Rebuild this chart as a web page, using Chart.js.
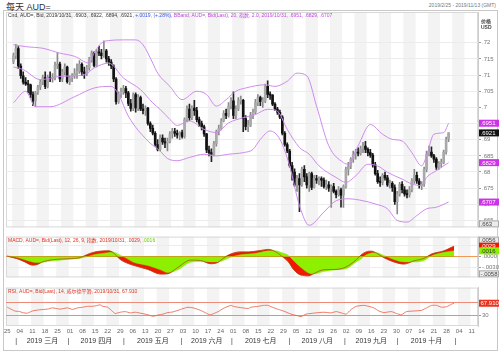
<!DOCTYPE html>
<html lang="zh">
<head>
<meta charset="UTF-8">
<title>每天 AUD=</title>
<script src="https://cdn.jsdelivr.net/npm/chart.js"></script>
<style>
  html, body { margin: 0; padding: 0; background: #fff; }
  #wrap { position: relative; width: 500px; height: 352px; overflow: hidden;
          font-family: "Liberation Sans", Arial, "Noto Sans CJK SC", sans-serif; }
  #wrap canvas { position: absolute; left: 0; }
  .frame { position: absolute; left: 3px; top: 10px; width: 493px; height: 339px; border: 1px solid #c8c8c8; }
  .title { position: absolute; left: 6px; top: 0px; font-size: 9px; color: #333; }
  .range { position: absolute; right: 4px; top: 2px; font-size: 5px; color: #777; }
  .unit { position: absolute; left: 481px; font-size: 5px; font-weight: bold; color: #444; }
</style>
</head>
<body>
<div id="wrap">
  <div class="frame"></div>
  <div class="title">每天 AUD=</div>
  <div class="range">2019/2/25 - 2019/11/13 (GMT)</div>
  <canvas id="price" width="500" height="232" style="top:0"></canvas>
  <canvas id="macd" width="500" height="50" style="top:232px"></canvas>
  <canvas id="rsi" width="500" height="69" style="top:283px"></canvas>
  <div class="unit" style="top:17px">价格</div>
  <div class="unit" style="top:24px">USD</div>
</div>

<script>
// ---- data: daily candles, 2019/2/25 .. 2019/10/31 (index 0..178) ----
const opens = [
  .7142,.7160,.7182,.7128,.7098,.7078,.7073,.7070,.7040,.7020,
  .7046,.7063,.7078,.7092,.7065,.7093,.7090,.7093,.7130,.7134,
  .7088,.7110,.7125,.7080,.7092,.7097,.7105,.7112,.7133,.7110,
  .7105,.7122,.7150,.7168,.7130,.7172,.7168,.7160,.7175,.7150,
  .7140,.7128,.7088,.7018,.7040,.7048,.7058,.7045,.7012,.6997,
  .7040,.6998,.7030,.6995,.6990,.6998,.6950,.6935,.6920,.6885,
  .6870,.6905,.6893,.6890,.6895,.6918,.6925,.6920,.6915,.6922,
  .6910,.6962,.6995,.6968,.6998,.6990,.6962,.6950,.6940,.6918,
  .6868,.6860,.6855,.6888,.6925,.6935,.6958,.6982,.6975,.7005,
  .7020,.6975,.6995,.7020,.7022,.6965,.6940,.6945,.6975,.6985,
  .7015,.7030,.7018,.7020,.7065,.7040,.7038,.7010,.6995,.6985,
  .6970,.6920,.6885,.6865,.6820,.6800,.6760,.6780,.6760,.6808,
  .6785,.6760,.6795,.6752,.6780,.6775,.6780,.6775,.6755,.6760,
  .6750,.6755,.6740,.6730,.6745,.6728,.6755,.6808,.6818,.6840,
  .6855,.6862,.6858,.6872,.6880,.6870,.6860,.6852,.6822,.6795,
  .6770,.6768,.6790,.6782,.6760,.6765,.6752,.6708,.6732,.6762,
  .6745,.6732,.6730,.6745,.6772,.6790,.6772,.6758,.6762,.6808,
  .6855,.6862,.6850,.6840,.6815,.6826,.6830,.6862,.6903
];
const highs = [
  .7168,.7195,.7188,.7135,.7110,.7092,.7084,.7072,.7048,.7050,
  .7068,.7085,.7100,.7110,.7100,.7110,.7105,.7140,.7170,.7140,
  .7118,.7135,.7128,.7098,.7105,.7120,.7135,.7145,.7138,.7125,
  .7130,.7155,.7175,.7172,.7180,.7190,.7180,.7206,.7180,.7158,
  .7148,.7132,.7092,.7048,.7060,.7068,.7065,.7050,.7025,.7045,
  .7045,.7040,.7035,.7010,.7005,.7000,.6955,.6945,.6925,.6900,
  .6915,.6915,.6905,.6905,.6925,.6935,.6935,.6930,.6925,.6930,
  .6968,.7005,.7010,.7005,.7022,.7000,.6970,.6958,.6945,.6920,
  .6880,.6872,.6895,.6930,.6945,.6965,.6990,.6995,.7015,.7030,
  .7048,.7005,.7030,.7035,.7025,.6975,.6960,.6985,.6995,.7025,
  .7040,.7035,.7030,.7072,.7082,.7048,.7040,.7015,.7000,.6992,
  .6975,.6925,.6890,.6870,.6830,.6810,.6790,.6795,.6815,.6820,
  .6795,.6800,.6800,.6790,.6790,.6785,.6785,.6782,.6775,.6770,
  .6760,.6765,.6745,.6755,.6750,.6760,.6815,.6830,.6845,.6865,
  .6870,.6875,.6880,.6892,.6895,.6875,.6870,.6858,.6830,.6805,
  .6785,.6795,.6800,.6790,.6775,.6770,.6760,.6740,.6768,.6770,
  .6755,.6745,.6755,.6780,.6808,.6800,.6780,.6770,.6815,.6865,
  .6880,.6878,.6855,.6845,.6832,.6840,.6868,.6908,.6922
];
const lows = [
  .7135,.7150,.7120,.7090,.7072,.7068,.7045,.7030,.7005,.7003,
  .7040,.7055,.7070,.7058,.7060,.7080,.7078,.7085,.7120,.7080,
  .7080,.7100,.7075,.7070,.7080,.7090,.7090,.7105,.7098,.7090,
  .7098,.7115,.7140,.7125,.7125,.7160,.7150,.7155,.7140,.7130,
  .7120,.7080,.7010,.7012,.7030,.7040,.7030,.7005,.6988,.6990,
  .6985,.6990,.6990,.6980,.6975,.6945,.6925,.6915,.6880,.6865,
  .6865,.6885,.6875,.6865,.6890,.6905,.6910,.6905,.6900,.6905,
  .6905,.6955,.6960,.6962,.6975,.6955,.6940,.6930,.6910,.6860,
  .6850,.6832,.6850,.6880,.6915,.6930,.6955,.6965,.6970,.6995,
  .6965,.6965,.6990,.7010,.6925,.6930,.6925,.6940,.6965,.6980,
  .7005,.7005,.7000,.7015,.7030,.7025,.7005,.6990,.6978,.6965,
  .6915,.6880,.6860,.6815,.6775,.6755,.6740,.6677,.6755,.6770,
  .6750,.6740,.6745,.6750,.6765,.6760,.6755,.6750,.6745,.6740,
  .6690,.6735,.6720,.6725,.6691,.6690,.6750,.6790,.6810,.6830,
  .6840,.6850,.6852,.6860,.6860,.6850,.6845,.6815,.6790,.6765,
  .6755,.6760,.6775,.6755,.6750,.6740,.6700,.6670,.6725,.6735,
  .6725,.6720,.6722,.6738,.6765,.6765,.6750,.6745,.6755,.6800,
  .6850,.6845,.6830,.6808,.6808,.6815,.6825,.6855,.6894
];
const closes = [
  .7160,.7182,.7128,.7098,.7078,.7073,.7070,.7040,.7020,.7046,
  .7063,.7078,.7092,.7065,.7093,.7090,.7093,.7130,.7134,.7088,
  .7110,.7125,.7080,.7092,.7097,.7105,.7112,.7133,.7110,.7105,
  .7122,.7150,.7168,.7130,.7172,.7168,.7160,.7175,.7150,.7140,
  .7128,.7088,.7018,.7040,.7048,.7058,.7045,.7012,.6997,.7040,
  .6998,.7030,.6995,.6990,.6998,.6950,.6935,.6920,.6885,.6870,
  .6905,.6893,.6890,.6895,.6918,.6925,.6920,.6915,.6922,.6910,
  .6962,.6995,.6968,.6998,.6990,.6962,.6950,.6940,.6918,.6868,
  .6860,.6855,.6888,.6925,.6935,.6958,.6982,.6975,.7005,.7020,
  .6975,.6995,.7020,.7022,.6965,.6940,.6945,.6975,.6985,.7015,
  .7030,.7018,.7020,.7065,.7040,.7038,.7010,.6995,.6985,.6970,
  .6920,.6885,.6865,.6820,.6800,.6760,.6780,.6760,.6808,.6785,
  .6760,.6795,.6752,.6780,.6775,.6780,.6775,.6755,.6760,.6750,
  .6755,.6740,.6730,.6745,.6728,.6755,.6808,.6818,.6840,.6855,
  .6862,.6858,.6872,.6880,.6870,.6860,.6852,.6822,.6795,.6770,
  .6768,.6790,.6782,.6760,.6765,.6752,.6708,.6732,.6762,.6745,
  .6732,.6730,.6745,.6772,.6790,.6772,.6758,.6762,.6808,.6855,
  .6862,.6850,.6840,.6815,.6826,.6830,.6862,.6900,.6921
];

// Bollinger band (20, 2.0) at these day indices
const upperIdx  = [0, 5, 12, 19, 25, 31, 33, 36, 39, 45, 50, 53, 57, 59, 64, 69, 75, 79, 83, 87, 91, 95, 103, 107, 112, 116, 120, 124, 129, 135, 137, 141, 146, 151, 155, 159, 163, 167, 169, 172, 176, 178];
const upperVals = [.7194, .7188, .7183, .7168, .7158, .7137, .7168, .7199, .7207, .7209, .7209, .7194, .7137, .7106, .7065, .7024, .7050, .7040, .7004, .7024, .7050, .7060, .7070, .7065, .7081, .7106, .7098, .7004, .6881, .6829, .6824, .6881, .6947, .6917, .6901, .6896, .6860, .6819, .6850, .6917, .6922, .6951];
const midIdx    = [0, 4, 11, 19, 29, 33, 39, 45, 52, 57, 60, 64, 67, 72, 78, 83, 88, 94, 99, 104, 108, 112, 117, 121, 125, 132, 136, 140, 145, 149, 153, 159, 163, 167, 169, 173, 178];
const midVals   = [.7125, .7117, .7086, .7096, .7101, .7122, .7137, .7091, .7055, .7014, .6994, .6963, .6944, .6958, .6932, .6922, .6952, .6968, .6978, .6994, .6988, .6932, .6876, .6855, .6819, .6783, .6768, .6788, .6824, .6819, .6799, .6778, .6763, .6758, .6783, .6804, .6829];
const lowerIdx  = [0, 5, 9, 15, 25, 33, 40, 43, 47, 55, 60, 63, 67, 72, 78, 83, 88, 94, 98, 101, 105, 109, 113, 117, 121, 127, 132, 137, 143, 148, 153, 157, 161, 165, 169, 173, 178];
const lowerVals = [.7014, .7050, .7002, .7002, .7033, .7060, .7065, .7040, .6973, .6896, .6865, .6842, .6835, .6845, .6855, .6850, .6855, .6860, .6870, .6901, .6927, .6901, .6819, .6696, .6635, .6676, .6711, .6717, .6711, .6701, .6686, .6650, .6645, .6665, .6686, .6691, .6707];

// MACD (12, 26, 9)
const macdIdx    = [0, 4, 7, 10, 12, 14, 18, 24, 29, 32, 35, 37, 40, 42, 45, 47, 50, 56, 61, 64, 68, 73, 77, 81, 84, 86, 89, 93, 96, 99, 101, 104, 107, 109, 112, 114, 117, 120, 122, 126, 131, 135, 139, 141, 143, 145, 147, 150, 154, 158, 162, 166, 169, 174, 177, 178];
const macdVals   = [.0001, -.0006, -.0015, -.0024, -.0022, -.0015, -.0009, -.0006, -.0003, .0006, .0013, .0015, .0016, .0012, -.0008, -.0016, -.0024, -.0036, -.0049, -.0048, -.0030, -.0010, -.0011, -.0020, -.0016, -.0005, .0007, .0013, .0013, .0015, .0017, .0020, .0013, .0003, -.0015, -.0036, -.0052, -.0054, -.0048, -.0037, -.0036, -.0029, -.0009, .0005, .0013, .0015, .0010, -.0003, -.0015, -.0021, -.0012, -.0005, .0007, .0016, .0026, .0029];
const signalVals = [.0002, -.0003, -.0009, -.0015, -.0017, -.0016, -.0012, -.0008, -.0005, .0000, .0006, .0008, .0011, .0012, .0004, -.0003, -.0015, -.0025, -.0037, -.0045, -.0037, -.0016, -.0014, -.0015, -.0015, -.0011, -.0002, .0005, .0007, .0009, .0012, .0016, .0016, .0012, .0003, -.0011, -.0031, -.0046, -.0049, -.0042, -.0037, -.0034, -.0015, -.0006, .0005, .0010, .0011, .0003, -.0008, -.0015, -.0015, -.0011, .0002, .0012, .0015, .0016];

// RSI (14)
const rsiIdx  = [0, 1, 3, 5, 6, 8, 10, 13, 16, 18, 21, 24, 26, 28, 30, 32, 34, 36, 37, 38, 40, 42, 43, 45, 47, 49, 51, 53, 56, 58, 60, 62, 64, 66, 69, 71, 72, 74, 77, 80, 81, 84, 86, 89, 90, 92, 96, 97, 100, 102, 104, 105, 108, 110, 113, 115, 117, 119, 121, 123, 126, 129, 131, 133, 135, 137, 139, 142, 144, 146, 148, 150, 153, 155, 157, 159, 162, 165, 167, 169, 171, 173, 175, 177, 178];
const rsiVals = [55, 51, 43, 41, 38, 36, 43, 47, 49, 53, 49, 53, 48, 53, 55, 58, 58, 61, 63, 58, 55, 41, 35, 39, 41, 37, 39, 36, 31, 26, 30, 33, 38, 40, 48, 53, 55, 53, 45, 33, 31, 41, 51, 61, 58, 55, 51, 55, 58, 61, 61, 57, 48, 43, 33, 29, 25, 33, 35, 37, 39, 37, 41, 37, 33, 48, 58, 61, 58, 53, 43, 38, 41, 35, 31, 41, 43, 45, 53, 61, 61, 55, 57, 65, 67.91];

// axis labels
const priceTicks = [.665, .67, .675, .68, .685, .69, .695, .7, .705, .71, .715, .72];
const macdTicks = [.003, 0, -.003];
const rsiTicks = [30, 70];
const weekLabels = ['25','04','11','18','25','01','08','15','22','29','06','13','20','27','03','10','17','24','01','08','15','22','29','05','12','19','26','02','09','16','23','30','07','14','21','28','04','11'];
const monthLabels = ['2019 三月','2019 四月','2019 五月','2019 六月','2019 七月','2019 八月','2019 九月','2019 十月'];
const monthStarts = [4, 25, 47, 70, 90, 113, 135, 156, 179];

const FONT = '"Liberation Sans", Arial, "Noto Sans CJK SC", sans-serif';
const X_MIN = -0.5, X_MAX = 187.5;
const AXIS_W = 22;

function pts(idx, vals) { return idx.map((x, i) => ({ x: x, y: vals[i] })); }
const fmtPrice = v => Math.abs(v).toFixed(3).replace(/0+$/, '').replace(/^0/, '');
const fmtMacd = v => v.toFixed(4).replace('0.', '.');

// alternating week stripes
const stripes = {
  id: 'stripes',
  beforeDraw(chart) {
    const { ctx, chartArea: a, scales: { x } } = chart;
    ctx.save();
    ctx.fillStyle = '#f3f3f3';
    for (let w = 0; w < weekLabels.length; w += 2) {
      const x0 = Math.max(a.left, x.getPixelForValue(w * 5 - 0.5));
      const x1 = Math.min(a.right, x.getPixelForValue(w * 5 + 4.5));
      ctx.fillRect(x0, a.top, x1 - x0, a.bottom - a.top);
    }
    ctx.strokeStyle = '#d8d8d8';
    ctx.lineWidth = 1;
    ctx.strokeRect(a.left + 0.5, a.top + 0.5, a.right - a.left - 1, a.bottom - a.top - 1);
    ctx.restore();
  }
};

// header line of each panel
const header = {
  id: 'header',
  afterDraw(chart, args, opts) {
    const { ctx, chartArea: a } = chart;
    ctx.save();
    ctx.font = '5px ' + FONT;
    ctx.textBaseline = 'middle';
    let x = a.left + 2;
    for (const [t, c] of opts.parts) {
      ctx.fillStyle = c;
      ctx.fillText(t, x, a.top + 4);
      x += ctx.measureText(t).width;
    }
    ctx.restore();
  }
};

// value tags on the right axis
const tags = {
  id: 'tags',
  afterDraw(chart, args, opts) {
    const { ctx, chartArea: a, scales: { y } } = chart;
    ctx.save();
    ctx.font = '6px ' + FONT;
    ctx.textBaseline = 'middle';
    for (const t of opts.items) {
      const py = Math.min(Math.max(y.getPixelForValue(t.v), a.top + 3.5), a.bottom - 3.5);
      ctx.fillStyle = t.bg;
      ctx.fillRect(a.right + 1, py - 3.5, 20, 7);
      if (t.border) {
        ctx.strokeStyle = t.border;
        ctx.lineWidth = 0.8;
        ctx.strokeRect(a.right + 1.5, py - 3, 19, 6);
      }
      ctx.fillStyle = t.fg;
      ctx.fillText(t.text, a.right + 2.5, py + 0.5);
    }
    ctx.restore();
  }
};

// month row under the date ticks
const months = {
  id: 'months',
  afterDraw(chart) {
    const { ctx, scales: { x } } = chart;
    const y = 341 - 283;
    ctx.save();
    ctx.font = '7px ' + FONT;
    ctx.textBaseline = 'middle';
    ctx.textAlign = 'center';
    ctx.fillStyle = '#333';
    monthStarts.forEach(m => ctx.fillText('|', x.getPixelForValue(m - 0.5), y));
    monthLabels.forEach((t, i) => {
      const c = (x.getPixelForValue(monthStarts[i] - 0.5) + x.getPixelForValue(monthStarts[i + 1] - 0.5)) / 2;
      ctx.fillText(t, c, y);
    });
    ctx.restore();
  }
};

function xAxis(show) {
  const ax = {
    type: 'linear', min: X_MIN, max: X_MAX, display: show,
    grid: { display: false, drawTicks: false }, border: { display: false },
    afterBuildTicks: s => { s.ticks = weekLabels.map((_, i) => ({ value: i * 5 })); },
    ticks: { autoSkip: false, maxRotation: 0, padding: 2, color: '#666', font: { size: 6, family: FONT },
             callback: v => weekLabels[Math.round(v / 5)] }
  };
  if (show) ax.afterFit = s => { s.height = 26; };
  return ax;
}
function yAxis(min, max, tickVals, fmt, gridColor) {
  return {
    position: 'right', min: min, max: max,
    afterFit: s => { s.width = AXIS_W; },
    afterBuildTicks: s => { s.ticks = tickVals.map(v => ({ value: v })); },
    grid: { color: gridColor, tickColor: '#999', tickLength: 3 },
    border: { display: true, color: '#ccc' },
    ticks: { padding: 1, color: '#777', font: { size: 6, family: FONT }, callback: fmt }
  };
}
const base = { responsive: false, animation: false, events: [] };
const greyTag = (v, text) => ({ v: v, text: text, bg: '#ececec', fg: '#444', border: '#999' });

// ---- price panel ----
const up = closes.map((c, i) => c >= opens[i]);
new Chart(document.getElementById('price'), {
  type: 'bar',
  data: {
    datasets: [
      { type: 'line', data: pts(upperIdx, upperVals), borderColor: '#cf8bec', borderWidth: 1, pointRadius: 0, cubicInterpolationMode: 'monotone' },
      { type: 'line', data: pts(midIdx, midVals), borderColor: '#cf8bec', borderWidth: 1, pointRadius: 0, cubicInterpolationMode: 'monotone' },
      { type: 'line', data: pts(lowerIdx, lowerVals), borderColor: '#cf8bec', borderWidth: 1, pointRadius: 0, cubicInterpolationMode: 'monotone' },
      { data: closes.map((c, i) => ({ x: i, y: [opens[i], c] })), grouped: false, barThickness: 2, minBarLength: 1,
        backgroundColor: up.map(u => u ? '#a9a9a9' : '#111') },
      { data: closes.map((c, i) => ({ x: i, y: [lows[i], highs[i]] })), grouped: false, barThickness: 1,
        backgroundColor: up.map(u => u ? '#8a8a8a' : '#222') }
    ]
  },
  options: Object.assign({}, base, {
    layout: { padding: { left: 6, right: 0, top: 12, bottom: 3 } },
    scales: { x: xAxis(false), y: yAxis(.66285, .72953, priceTicks, fmtPrice, '#ececec') },
    plugins: {
      legend: { display: false }, tooltip: { enabled: false },
      header: { parts: [
        ['Cnd, AUD=, Bid, 2019/10/31, .6903, .6922, .6894, .6921, ', '#333'],
        ['+.0019, (+.28%), ', '#3a55e8'],
        ['BBand, AUD=, Bid(Last), 20, 指数, 2.0, 2019/10/31, .6951, .6829, .6707', '#c046e0']
      ] },
      tags: { items: [
        { v: .6951, text: '.6951', bg: '#cc33e6', fg: '#fff' },
        { v: .6921, text: '.6921', bg: '#111', fg: '#fff' },
        { v: .6829, text: '.6829', bg: '#cc33e6', fg: '#fff' },
        { v: .6707, text: '.6707', bg: '#cc33e6', fg: '#fff' },
        greyTag(.6629, '.663')
      ] }
    }
  }),
  plugins: [stripes, header, tags]
});

// ---- MACD panel ----
new Chart(document.getElementById('macd'), {
  type: 'line',
  data: {
    datasets: [
      { data: pts(macdIdx, macdVals), borderColor: '#a34a1c', borderWidth: 0.7, pointRadius: 0, fill: false, cubicInterpolationMode: 'monotone' },
      { data: pts(macdIdx, signalVals), borderColor: '#88e800', backgroundColor: '#8ef000', borderWidth: 0.5, pointRadius: 0, fill: 'origin', cubicInterpolationMode: 'monotone' },
      { data: pts(macdIdx, macdVals), borderColor: '#f01a00', backgroundColor: '#f01a00', borderWidth: 0.5, pointRadius: 0, fill: 'origin', cubicInterpolationMode: 'monotone' }
    ]
  },
  options: Object.assign({}, base, {
    layout: { padding: { left: 6, right: 0, top: 2, bottom: 1 } },
    scales: { x: xAxis(false), y: yAxis(-.00585, .0056, macdTicks, fmtMacd, c => c.tick && c.tick.value === 0 ? '#f29a55' : '#ececec') },
    plugins: {
      legend: { display: false }, tooltip: { enabled: false },
      header: { parts: [['MACD, AUD=, Bid(Last), 12, 26, 9, 指数, 2019/10/31, .0029, ', '#e0321e'], ['.0016', '#66cc00']] },
      tags: { items: [
        greyTag(.0056, '.0056'),
        greyTag(-.00585, '-.0058'),
        { v: .0029, text: '.0029', bg: '#f01a00', fg: '#fff' },
        { v: .0016, text: '.0016', bg: '#8ef000', fg: '#333' }
      ] }
    }
  }),
  plugins: [stripes, header, tags]
});

// ---- RSI panel ----
new Chart(document.getElementById('rsi'), {
  type: 'line',
  data: {
    datasets: [
      { data: pts(rsiIdx, rsiVals), borderColor: '#ec5a3c', borderWidth: 0.8, pointRadius: 0, tension: 0.2 }
    ]
  },
  options: Object.assign({}, base, {
    layout: { padding: { left: 6, right: 0, top: 2, bottom: 0 } },
    scales: { x: xAxis(true), y: yAxis(-5.2, 118.1, rsiTicks, v => String(v), '#f08a78') },
    plugins: {
      legend: { display: false }, tooltip: { enabled: false },
      header: { parts: [['RSI, AUD=, Bid(Last), 14, 威尔德平滑, 2019/10/31, 67.910', '#e0321e']] },
      tags: { items: [{ v: 67.91, text: '67.910', bg: '#e8321e', fg: '#fff' }] }
    }
  }),
  plugins: [stripes, header, tags, months]
});
</script>
</body>
</html>
